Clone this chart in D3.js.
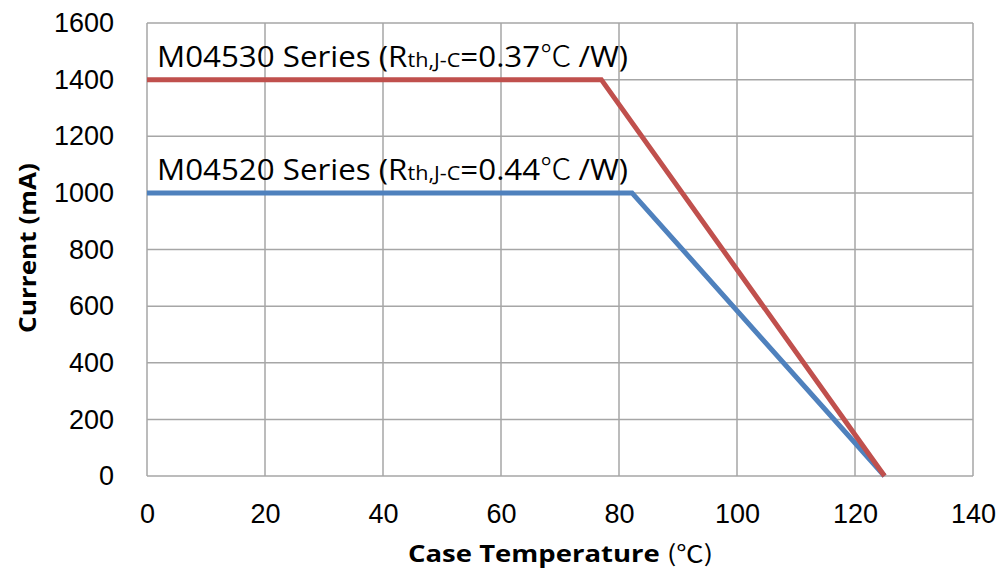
<!DOCTYPE html>
<html>
<head>
<meta charset="utf-8">
<script src="https://cdn.jsdelivr.net/npm/d3@7"></script>
<style>
  body { margin: 0; background: #fff; }
</style>
</head>
<body>
<div id="chart"></div>
<script>
// derating curves
var temps530 = [0, 77, 125];
var current530 = [1400, 1400, 0];
var temps520 = [0, 82.2, 125];
var current520 = [1000, 1000, 0];

var seriesNames = ['M04530 Series', 'M04520 Series'];
var seriesRth = ['0.37', '0.44'];
var xTicks = [0, 20, 40, 60, 80, 100, 120, 140];
var yTicks = [0, 200, 400, 600, 800, 1000, 1200, 1400, 1600];

var width = 1003,
    height = 574,
    margin = { left: 147, top: 23, right: 30, bottom: 98 };

var svg = d3.select('#chart')
    .append('svg')
    .attr('width', width)
    .attr('height', height);

var x = d3.scaleLinear().domain([0, 140]).range([margin.left, width - margin.right]);
var y = d3.scaleLinear().domain([0, 1600]).range([height - margin.bottom, margin.top]);

// grid
svg.append('g')
    .selectAll('line')
    .data(xTicks)
    .enter()
    .append('line')
    .attr('x1', function(d) { return x(d); })
    .attr('x2', function(d) { return x(d); })
    .attr('y1', y(0))
    .attr('y2', y(1600))
    .attr('stroke', '#a6a6a6')
    .attr('stroke-width', 1.5);

svg.append('g')
    .selectAll('line')
    .data(yTicks)
    .enter()
    .append('line')
    .attr('x1', x(0))
    .attr('x2', x(140))
    .attr('y1', function(d) { return y(d); })
    .attr('y2', function(d) { return y(d); })
    .attr('stroke', '#a6a6a6')
    .attr('stroke-width', 1.5);

// axes (labels only, lines are the grid)
var xAxis = svg.append('g')
    .attr('transform', 'translate(0,' + y(0) + ')')
    .call(d3.axisBottom(x).tickValues(xTicks).tickFormat(d3.format('d')).tickSize(0).tickPadding(28));
var yAxis = svg.append('g')
    .attr('transform', 'translate(' + x(0) + ',0)')
    .call(d3.axisLeft(y).tickValues(yTicks).tickFormat(d3.format('d')).tickSize(0).tickPadding(33));

[xAxis, yAxis].forEach(function(a) {
    a.select('.domain').remove();
    a.selectAll('text')
        .style('font', '27px "Liberation Sans", Arial, sans-serif')
        .attr('fill', '#000');
});

// lines
var line = d3.line()
    .x(function(d) { return x(d[0]); })
    .y(function(d) { return y(d[1]); });

var series = [
    { t: temps520, c: current520, color: '#4f81bd' },
    { t: temps530, c: current530, color: '#c0504d' }
];

series.forEach(function(s) {
    svg.append('path')
        .datum(d3.zip(s.t, s.c))
        .attr('d', line)
        .attr('fill', 'none')
        .attr('stroke', s.color)
        .attr('stroke-width', 5);
});

// series labels
var labelLevels = [current530[0], current520[0]];
labelLevels.forEach(function(level, i) {
    var t = svg.append('text')
        .attr('x', x(1.7))
        .attr('y', y(level) - 13)
        .attr('textLength', 471)
        .attr('lengthAdjust', 'spacingAndGlyphs')
        .style('font', '29px "Open Sans", sans-serif')
        .attr('fill', '#000');
    t.append('tspan').text(seriesNames[i] + ' (R');
    t.append('tspan').text('th,J-C').style('font-size', '20px');
    t.append('tspan').text('=' + seriesRth[i]);
    t.append('tspan').text('\u2103 ').style('font-family', '"Noto Sans CJK SC"').style('font-weight', 300);
    t.append('tspan').text('/W)');
});

// axis titles
var xt = svg.append('text')
    .attr('x', 408)
    .attr('y', 562)
    .attr('textLength', 305)
    .attr('lengthAdjust', 'spacingAndGlyphs')
    .style('font', 'bold 23px "Open Sans", sans-serif');
xt.append('tspan').text('Case Temperature ');
xt.append('tspan').text('(\u2103)').style('font-family', '"Noto Sans CJK SC"').style('font-weight', 400);

svg.append('text')
    .attr('transform', 'translate(36,333) rotate(-90)')
    .attr('textLength', 170)
    .attr('lengthAdjust', 'spacingAndGlyphs')
    .style('font', 'bold 23px "Open Sans", sans-serif')
    .text('Current (mA)');
</script>
</body>
</html>
